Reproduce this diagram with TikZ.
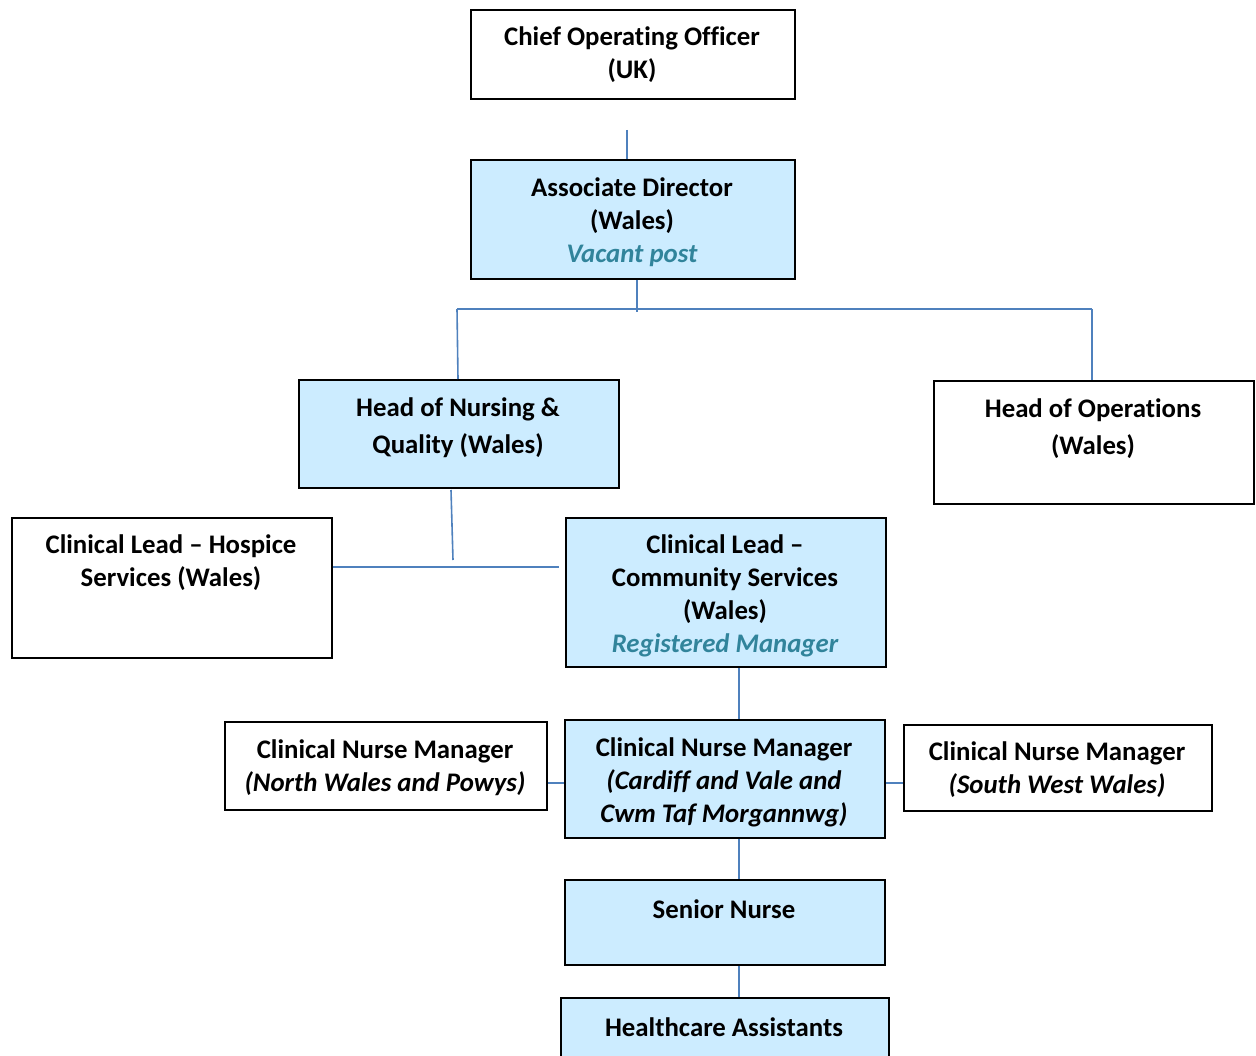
\documentclass[tikz,border=0pt]{standalone}
\usepackage{fontspec}
\setmainfont{Carlito}[Ligatures={TeX,NoCommon}]
\definecolor{boxblue}{HTML}{CCECFF}
\definecolor{linkblue}{HTML}{4F81BD}
\definecolor{teal}{HTML}{31849B}
\begin{document}
\begin{tikzpicture}[x=1pt,y=-1pt,
  box/.style={draw=black,line width=1.8pt,anchor=north west,inner sep=0pt},
  bluebox/.style={box,fill=boxblue},
  txt/.style={font=\fontsize{26.8}{33}\selectfont\bfseries,align=center,inner sep=0pt},
  link/.style={draw=linkblue,line width=1.6pt}]
\useasboundingbox (0,0) rectangle (1256,1056);
% boxes
\node[box,minimum width=324pt,minimum height=89pt] (coo) at (470,9) {};
\node[bluebox,minimum width=324pt,minimum height=119pt] (ad) at (470,159) {};
\node[bluebox,minimum width=320pt,minimum height=108pt] (hon) at (298,379) {};
\node[box,minimum width=320pt,minimum height=123pt] (hoo) at (933,380) {};
\node[box,minimum width=320pt,minimum height=140pt] (clh) at (11,517) {};
\node[bluebox,minimum width=320pt,minimum height=149pt] (clc) at (565,517) {};
\node[bluebox,minimum width=320pt,minimum height=118pt] (cnm) at (564,719) {};
\node[box,minimum width=322pt,minimum height=88pt] (cnmn) at (224,721) {};
\node[box,minimum width=308pt,minimum height=86pt] (cnms) at (903,724) {};
\node[bluebox,minimum width=320pt,minimum height=85pt] (sn) at (564,879) {};
\node[bluebox,minimum width=328pt,minimum height=70pt] (hca) at (560,997) {};
% texts
\node[txt] (tcoo) at (632,55) {Chief Operating Officer\\(UK)};
\node[txt] (tad) at (632,222) {Associate Director\\(Wales)\\\textcolor{teal}{\itshape Vacant post}};
\node[txt] (thon) at (458,428) {Head of Nursing \&\\[4pt]Quality (Wales)};
\node[txt] (thoo) at (1093,429) {Head of Operations\\[4pt](Wales)};
\node[txt] (tclh) at (171,563) {Clinical Lead -- Hospice\\Services (Wales)};
\node[txt] (tclc) at (725,596) {Clinical Lead --\\Community Services\\(Wales)\\\textcolor{teal}{\itshape Registered Manager}};
\node[txt] (tcnm) at (724,782) {Clinical Nurse Manager\\\itshape (Cardiff and Vale and\\\itshape Cwm Taf Morgannwg)};
\node[txt] (tcnmn) at (385,768) {Clinical Nurse Manager\\\itshape (North Wales and Powys)};
\node[txt] (tcnms) at (1057,770) {Clinical Nurse Manager\\\itshape (South West Wales)};
\node[txt] (tsn) at (724,909) {Senior Nurse};
\node[txt] (thca) at (724,1027) {Healthcare Assistants};
% connector coordinates
\coordinate (c1) at (627,130);
\coordinate (c2) at (637,312);
\coordinate (hl) at (457,309);
\coordinate (hr) at (1092,309);
\coordinate (c3) at (451,490);
\coordinate (c4) at (453,560);
\coordinate (c5) at (559,567);
% connectors
\draw[link] (c1) -- (c1 |- ad.north);
\draw[link] (ad.south -| c2) -- (c2);
\draw[link] (hl) -- (hr);
\draw[link] (hl) -- (458,379) coordinate (honin);
\draw[link] (hr) -- (hr |- hoo.north);
\draw[link] (c3) -- (c4);
\draw[link] (clh.east |- c5) -- (c5);
\draw[link] (clc.south -| 739,0) -- (cnm.north -| 739,0);
\draw[link] (cnmn.east |- 0,783) -- (cnm.west |- 0,783);
\draw[link] (cnm.east |- 0,783) -- (cnms.west |- 0,783);
\draw[link] (cnm.south -| 739,0) -- (sn.north -| 739,0);
\draw[link] (sn.south -| 739,0) -- (hca.north -| 739,0);
\end{tikzpicture}
\end{document}
